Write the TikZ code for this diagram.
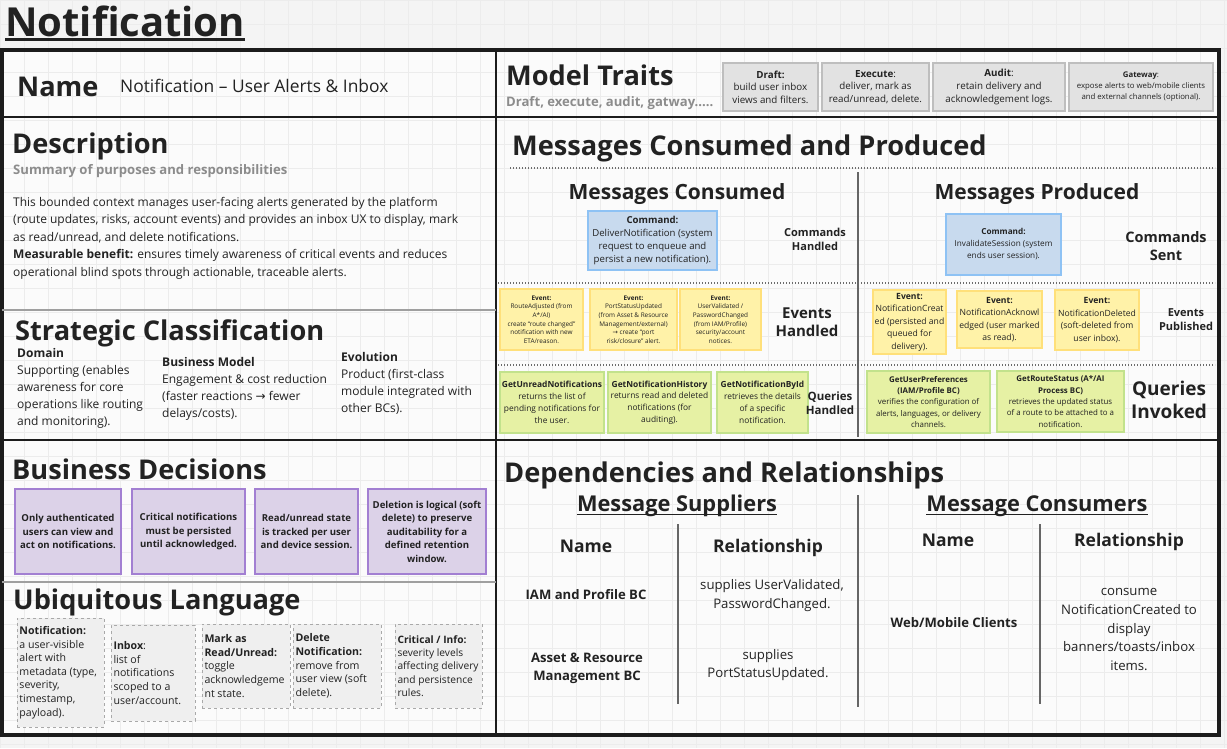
\documentclass[tikz,border=0pt]{standalone}
\usepackage{fontspec}
\setmainfont{Open Sans}
\newfontfamily\symfont{DejaVu Sans}
\newcommand\fsz[2]{\fontsize{#1}{#2}\selectfont}
\newcommand\rarr{{\symfont →}}

\definecolor{bg}{HTML}{F4F4F4}
\definecolor{panel}{HTML}{FBFBFB}
\definecolor{gridc}{HTML}{ECECEC}
\definecolor{frame}{HTML}{1C1C1C}
\definecolor{ink}{HTML}{222222}
\definecolor{subgray}{HTML}{8C8C8C}
\definecolor{traitfill}{HTML}{E2E2E2}
\definecolor{traitdraw}{HTML}{BEBEBE}
\definecolor{cmdfill}{HTML}{C8DAEE}
\definecolor{cmddraw}{HTML}{8EC2F4}
\definecolor{evtfill}{HTML}{FFF2A8}
\definecolor{evtdraw}{HTML}{FFE07A}
\definecolor{qryfill}{HTML}{E6F1A4}
\definecolor{qrydraw}{HTML}{C2E28C}
\definecolor{decfill}{HTML}{DCD2E8}
\definecolor{decdraw}{HTML}{A27FD2}
\definecolor{ubifill}{HTML}{EFEFEF}
\definecolor{ubidraw}{HTML}{A9A9A9}

% centred card: name, style, x1, y1, x2, y2, text
\newcommand\cardbox[7]{%
  \pgfmathsetmacro\cw{#5-#3}\pgfmathsetmacro\ch{#6-#4}%
  \node[#2, minimum width=\cw pt, minimum height=\ch pt]
    (#1) at ({(#3+#5)/2},{(#4+#6)/2}) {#7};}
% left-aligned term card: name, style, x1, y1, x2, y2, text
\newcommand\termbox[7]{%
  \pgfmathsetmacro\cw{#5-#3}\pgfmathsetmacro\ch{#6-#4}\pgfmathsetmacro\tw{#5-#3-5}%
  \node[#2, minimum width=\cw pt, minimum height=\ch pt, text width=\tw pt]
    (#1) at ({(#3+#5)/2},{(#4+#6)/2}) {#7};}

\begin{document}
\begin{tikzpicture}[x=1pt,y=-1pt,
  hd/.style={anchor=base west, inner sep=0pt, font=\fsz{27.2}{32}\bfseries, text=ink},
  sub/.style={anchor=base west, inner sep=0pt, font=\fsz{13.1}{15}\bfseries, text=subgray},
  txt/.style={inner sep=0pt, align=left, text=ink},
  lbl/.style={inner sep=0pt, align=center, text=ink},
  card/.style={inner sep=2pt, align=center, text=ink},
  trait/.style={card, fill=traitfill, draw=traitdraw, line width=1.6pt, font=\fsz{9.8}{12.6}},
  cmd/.style={card, fill=cmdfill, draw=cmddraw, line width=2pt},
  evt/.style={card, fill=evtfill, draw=evtdraw, line width=2pt},
  qry/.style={card, fill=qryfill, draw=qrydraw, line width=2pt},
  dec/.style={card, fill=decfill, draw=decdraw, line width=2pt, font=\fsz{9.6}{13.5}\bfseries},
  ubi/.style={card, inner sep=2.5pt, align=flush left, fill=ubifill, draw=ubidraw, dashed, line width=0.9pt, font=\fsz{10.6}{13.6}},
  colhd/.style={anchor=base, inner sep=0pt, font=\fsz{17.5}{21}\bfseries, text=ink},
  dephd/.style={anchor=base, inner sep=0pt, font=\fsz{21.8}{26}\bfseries, text=ink},
  heavy/.style={draw=frame, line width=4.5pt},
  rule/.style={draw=frame, line width=2.4pt},
  softrule/.style={draw=gray!75, line width=1.6pt},
  dots/.style={draw=gray!85!black, line width=1.3pt, dash pattern=on 1.3pt off 1.7pt},
  colrule/.style={draw=gray!80!black, line width=1.2pt},
]
\useasboundingbox (0,0) rectangle (1227,748);
% canvas and board grid
\fill[bg] (0,0) rectangle (1227,748);
\fill[panel] (2,50) rectangle (1219,735);
\foreach \gx in {0,24,...,1227} \draw[gridc, line width=0.5pt] (\gx,0) -- (\gx,748);
\foreach \gy in {0,24,...,748} \draw[gridc, line width=0.5pt] (0,\gy) -- (1227,\gy);

% title
\node[anchor=base west, inner sep=0pt, font=\fsz{40}{46}\bfseries, text=ink] (title) at (5,36) {Notification};
\draw[ink, line width=3pt] ([yshift=-3.5pt]title.base west) -- ([yshift=-3.5pt]title.base east);

% frame and section rules
\draw[heavy] (2,50) rectangle (1219,735);
\draw[rule] (496,50) -- (496,735);
\draw[rule] (2,117) -- (1219,117);
\draw[softrule] (2,310) -- (496,310);
\draw[rule] (2,440) -- (1219,440);
\draw[softrule] (2,582) -- (496,582);

% ---------- Name ----------
\node[hd] (namehd) at (17,96) {Name};
\node[anchor=base west, inner sep=0pt, font=\fsz{17.4}{20}, text=ink] (nameval) at (120,92) {Notification – User Alerts \& Inbox};

% ---------- Model traits ----------
\node[hd] (traitshd) at (506,85) {Model Traits};
\node[sub] (traitssub) at (506,106) {Draft, execute, audit, gatway.....};
\cardbox{tDraft}{trait}{723}{63}{818}{111}{{\bfseries Draft:}\\build user inbox\\views and filters.}
\cardbox{tExec}{trait}{822}{63}{929}{111}{{\bfseries Execute}:\\deliver, mark as\\read/unread, delete.}
\cardbox{tAudit}{trait}{933}{63}{1065}{111}{{\bfseries Audit}:\\retain delivery and\\acknowledgement logs.}
\cardbox{tGate}{trait,font=\fsz{7.8}{11}}{1069}{63}{1213}{111}{{\bfseries Gateway}:\\expose alerts to web/mobile clients\\and external channels (optional).}

% ---------- Description ----------
\node[hd] (deschd) at (12,153) {Description};
\node[sub] (descsub) at (13,174) {Summary of purposes and responsibilities};
\node[txt, anchor=north west, font=\fsz{12}{17.5}] (descbody) at (13,197)
 {This bounded context manages user-facing alerts generated by the platform\\
  (route updates, risks, account events) and provides an inbox UX to display, mark\\
  as read/unread, and delete notifications.\\
  {\bfseries Measurable benefit:} ensures timely awareness of critical events and reduces\\
  operational blind spots through actionable, traceable alerts.};

% ---------- Strategic classification ----------
\node[hd] (strathd) at (15,340) {Strategic Classification};
\node[txt, anchor=north west, font=\fsz{12}{17}] (domain) at (17,348)
 {{\bfseries Domain}\\Supporting (enables\\awareness for core\\operations like routing\\and monitoring).};
\node[txt, anchor=north west, font=\fsz{12}{17}] (bizmodel) at (162,357)
 {{\bfseries Business Model}\\Engagement \& cost reduction\\(faster reactions \rarr{} fewer\\delays/costs).};
\node[txt, anchor=north west, font=\fsz{12}{17}] (evolution) at (341,352)
 {{\bfseries Evolution}\\Product (first-class\\module integrated with\\other BCs).};

% ---------- Business decisions ----------
\node[hd] (bdhd) at (12,479) {Business Decisions};
\cardbox{dAuth}{dec}{15}{489}{121}{574}{Only authenticated\\users can view and\\act on notifications.}
\cardbox{dCrit}{dec}{132}{489}{245}{574}{Critical notifications\\must be persisted\\until acknowledged.}
\cardbox{dRead}{dec}{255}{489}{358}{574}{Read/unread state\\is tracked per user\\and device session.}
\cardbox{dDel}{dec}{368}{489}{486}{574}{Deletion is logical (soft\\delete) to preserve\\auditability for a\\defined retention\\window.}

% ---------- Ubiquitous language ----------
\node[hd] (ulhd) at (13,609) {Ubiquitous Language};
\termbox{uNotif}{ubi}{17}{618}{104}{727}{{\bfseries Notification:}\\ a user-visible\\alert with\\metadata (type,\\severity,\\timestamp,\\payload).}
\termbox{uInbox}{ubi}{111}{625}{195}{721}{{\bfseries Inbox}:\\list of\\notifications\\scoped to a\\user/account.}
\termbox{uMark}{ubi}{202}{624}{290}{708}{{\bfseries Mark as}\\{\bfseries Read/Unread:}\\toggle\\acknowledgeme\\nt state.}
\termbox{uDelete}{ubi}{293}{624}{381}{708}{{\bfseries Delete}\\{\bfseries Notification:}\\remove from\\user view (soft\\delete).}
\termbox{uCrit}{ubi,font=\fsz{10.2}{13.4}}{395}{624}{482}{708}{{\bfseries Critical / Info:}\\severity levels\\affecting delivery\\and persistence\\rules.}

% ---------- Messages consumed and produced ----------
\node[hd] (msghd) at (512,155) {Messages Consumed and Produced};
\draw[dots] (510,168) -- (1215,168);
\draw[dots] (498,283) -- (1215,283);
\draw[dots] (498,365) -- (1215,365);
\draw[colrule] (858,172) -- (858,437);
\node[dephd, font=\fsz{21}{25}\bfseries] (consumedhd) at (677,199) {Messages Consumed};
\node[dephd, font=\fsz{21}{25}\bfseries] (producedhd) at (1037,199) {Messages Produced};

\cardbox{cDeliver}{cmd,font=\fsz{9.6}{13}}{588}{211}{717}{270}{{\bfseries Command:}\\DeliverNotification (system\\request to enqueue and\\persist a new notification).}
\node[lbl, font=\fsz{11}{14}\bfseries] (cmdhandled) at (815,239) {Commands\\Handled};
\cardbox{cInvalidate}{cmd,font=\fsz{8.2}{12}}{946}{214}{1061}{275}{{\bfseries Command:}\\InvalidateSession (system\\ends user session).}
\node[lbl, font=\fsz{14.5}{18}\bfseries] (cmdsent) at (1166,246) {Commands\\Sent};

\cardbox{eRoute}{evt,font=\fsz{6.4}{8.6}}{500}{289}{583}{350}{{\bfseries Event:}\\RouteAdjusted (from\\A*/AI)\\create ``route changed''\\notification with new\\ETA/reason.}
\cardbox{ePort}{evt,font=\fsz{6.4}{8.6}}{590}{289}{677}{350}{{\bfseries Event:}\\PortStatusUpdated\\(from Asset \& Resource\\Management/external)\\\rarr{} create ``port\\risk/closure'' alert.}
\cardbox{eUser}{evt,font=\fsz{6.4}{8.6}}{680}{289}{761}{350}{{\bfseries Event:}\\UserValidated /\\PasswordChanged\\(from IAM/Profile)\\security/account\\notices.}
\node[lbl, font=\fsz{15}{18}\bfseries] (evthandled) at (807,322) {Events\\Handled};
\cardbox{pCreated}{evt,font=\fsz{8.6}{12.5}}{873}{290}{946}{354}{{\bfseries Event:}\\NotificationCreat\\ed (persisted and\\queued for\\delivery).}
\cardbox{pAck}{evt,font=\fsz{8.6}{12.5}}{958}{291}{1041}{348}{{\bfseries Event:}\\NotificationAcknowl\\edged (user marked\\as read).}
\cardbox{pDeleted}{evt,font=\fsz{8.6}{12.5}}{1055}{290}{1139}{350}{{\bfseries Event:}\\NotificationDeleted\\(soft-deleted from\\user inbox).}
\node[lbl, font=\fsz{11}{14}\bfseries] (evtpub) at (1186,320) {Events\\Published};

\cardbox{qUnread}{qry,font=\fsz{8.4}{11.8}}{501}{372}{603}{433}{{\bfseries GetUnreadNotifications}\\returns the list of\\pending notifications for\\the user.}
\cardbox{qHistory}{qry,font=\fsz{8.4}{11.8}}{608}{372}{711}{433}{{\bfseries GetNotificationHistory}\\returns read and deleted\\notifications (for\\auditing).}
\cardbox{qById}{qry,font=\fsz{8.4}{11.8}}{717}{372}{808}{433}{{\bfseries GetNotificationById}\\retrieves the details\\of a specific\\notification.}
\node[lbl, font=\fsz{11.5}{14}\bfseries] (qhandled) at (830,403) {Queries\\Handled};
\cardbox{rPrefs}{qry,font=\fsz{7.9}{11.4}}{867}{371}{990}{433}{{\bfseries GetUserPreferences}\\{\bfseries (IAM/Profile BC)}\\verifies the configuration of\\alerts, languages, or delivery\\channels.}
\cardbox{rRoute}{qry,font=\fsz{7.9}{11.4}}{997}{371}{1124}{432}{{\bfseries GetRouteStatus (A*/AI}\\{\bfseries Process BC)}\\retrieves the updated status\\of a route to be attached to a\\notification.}
\node[lbl, font=\fsz{19}{23}\bfseries] (qinvoked) at (1169,400) {Queries\\Invoked};

% ---------- Dependencies and relationships ----------
\node[hd] (dephdr) at (504,482) {Dependencies and Relationships};
\node[dephd] (supphd) at (677,511) {Message Suppliers};
\draw[ink, line width=1.6pt] ([yshift=-3.5pt]supphd.base west) -- ([yshift=-3.5pt]supphd.base east);
\node[dephd] (conshd) at (1037,511) {Message Consumers};
\draw[ink, line width=1.6pt] ([yshift=-3.5pt]conshd.base west) -- ([yshift=-3.5pt]conshd.base east);
\draw[colrule, line width=1.6pt] (858,495) -- (858,707);
\draw[colrule, line width=1.4pt] (678,524) -- (678,704);
\draw[colrule, line width=1.4pt] (1040,524) -- (1040,704);

\node[colhd] (sname) at (586,552) {Name};
\node[colhd] (srel) at (768,552) {Relationship};
\node[colhd] (cname) at (948,546) {Name};
\node[colhd] (crel) at (1129,546) {Relationship};

\node[anchor=base, inner sep=0pt, font=\fsz{13.1}{18}\bfseries, text=ink] (iam) at (586,599) {IAM and Profile BC};
\node[lbl, anchor=north, font=\fsz{13.2}{19}] (iamrel) at (772,579) {supplies UserValidated,\\PasswordChanged.};
\node[lbl, anchor=north, font=\fsz{13.1}{18}\bfseries] (asset) at (587,653) {Asset \& Resource\\Management BC};
\node[lbl, anchor=north, font=\fsz{13.2}{18}] (assetrel) at (768,649) {supplies\\PortStatusUpdated.};
\node[anchor=base, inner sep=0pt, font=\fsz{13.1}{18}\bfseries, text=ink] (clients) at (954,627) {Web/Mobile Clients};
\node[lbl, anchor=north, font=\fsz{13.2}{18.8}] (clientsrel) at (1129,588) {consume\\NotificationCreated to\\display\\banners/toasts/inbox\\items.};
\end{tikzpicture}
\end{document}
